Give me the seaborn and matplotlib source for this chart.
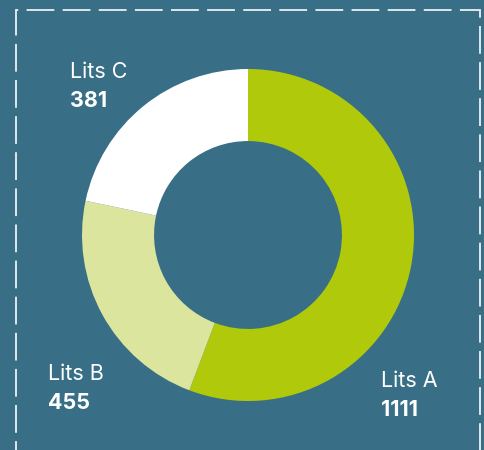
import matplotlib
matplotlib.use("Agg")
import matplotlib.pyplot as plt
import seaborn as sns
from matplotlib.patches import Rectangle

# données
labels = ['Lits A', 'Lits B', 'Lits C']
valeurs = [1111, 455, 381]
# part de l'anneau telle que dessinée sur l'image (en %), pas tout à fait proportionnelle aux valeurs
parts = [55.75, 22.56, 21.69]
couleurs = ['#b1c90b', '#dce59d', '#ffffff']
fond = '#386f86'

sns.set_theme(style='white', rc={'figure.facecolor': fond, 'axes.facecolor': fond})
plt.rcParams['font.family'] = ['Inter', 'DejaVu Sans']
plt.rcParams['lines.scale_dashes'] = False

fig = plt.figure(figsize=(4.85, 4.5), dpi=100)
fig.patch.set_facecolor(fond)

# cadre pointillé
cadre = Rectangle((16 / 485, -0.05), (480 - 16) / 485, 1.05 - 10 / 450,
                  transform=fig.transFigure, fill=False, edgecolor='white',
                  linewidth=1.3, linestyle=(0, (20, 6)), alpha=0.9)
fig.patches.append(cadre)

# donut
ax = fig.add_axes([(248 - 166) / 485, (450 - 235 - 166) / 450, 332 / 485, 332 / 450])
ax.pie(parts, colors=sns.color_palette(couleurs), startangle=90, counterclock=False,
       wedgeprops=dict(width=0.434, edgecolor='none', linewidth=0))
ax.set_xlim(-1, 1)
ax.set_ylim(-1, 1)
ax.set_aspect('equal')
ax.axis('off')

# étiquettes
pos = {'Lits A': (381, 387), 'Lits B': (48, 380), 'Lits C': (70, 78)}
for lab, val in zip(labels, valeurs):
    x, y = pos[lab]
    fig.text(x / 485, 1 - y / 450, lab, color='white', fontsize=15.5, va='baseline', ha='left')
    fig.text(x / 485, 1 - (y + 29) / 450, str(val), color='white', fontsize=15.5,
             fontweight='bold', va='baseline', ha='left')

fig.savefig('out.png', dpi=100, facecolor=fond)
